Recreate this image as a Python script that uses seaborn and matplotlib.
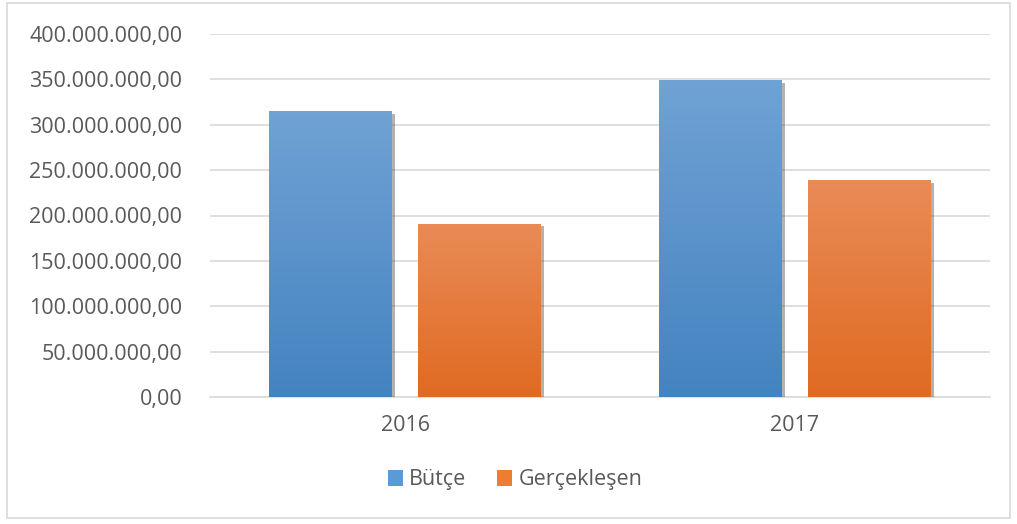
import numpy as np
import pandas as pd
import seaborn as sns
import matplotlib.pyplot as plt
import matplotlib.patheffects as pe
from matplotlib.colors import LinearSegmentedColormap
from matplotlib.patches import Rectangle
from matplotlib.ticker import FuncFormatter

# Values
years = ["2016", "2017"]
butce = [315_000_000, 349_000_000]
gerceklesen = [191_000_000, 239_000_000]
series = ["Bütçe", "Gerçekleşen"]

df = pd.DataFrame({
    "Yıl": years * 2,
    "Seri": [series[0]] * len(years) + [series[1]] * len(years),
    "Tutar": butce + gerceklesen,
})

sns.set_style("white")
plt.rcParams["font.family"] = ["Open Sans", "DejaVu Sans"]

fig = plt.figure(figsize=(10.17, 5.24), dpi=100)
ax = fig.add_axes([210 / 1017, 1 - 397 / 524, 780 / 1017, 363 / 524])

colors = {"Bütçe": "#5B9BD5", "Gerçekleşen": "#ED7D31"}
sns.barplot(data=df, x="Yıl", y="Tutar", hue="Seri", palette=colors,
            width=0.764, gap=0.18, ax=ax, zorder=3, linewidth=0, saturation=1)

# gradient fill + soft shadow like the office chart
grads = {
    "Bütçe": ("#70A2D4", "#4483C1"),
    "Gerçekleşen": ("#E98B57", "#E06A22"),
}
for cont, name in zip(ax.containers, series):
    cmap = LinearSegmentedColormap.from_list(name, [grads[name][1], grads[name][0]])
    for bar in cont:
        bar.set_path_effects([pe.SimplePatchShadow(offset=(2.5, -2), shadow_rgbFace="#555555", alpha=0.45),
                              pe.Normal()])
        x0, y0 = bar.get_x(), bar.get_y()
        w, h = bar.get_width(), bar.get_height()
        im = ax.imshow(np.linspace(0, 1, 256).reshape(-1, 1), cmap=cmap, origin="lower",
                       extent=[x0, x0 + w, y0, y0 + h], aspect="auto", zorder=4)
        im.set_clip_path(bar)

ax.set_xlim(-0.5, 1.5)
ax.set_ylim(0, 400_000_000)
ax.set_yticks(np.arange(0, 400_000_001, 50_000_000))
ax.yaxis.set_major_formatter(FuncFormatter(
    lambda v, p: f"{v:,.2f}".replace(",", "X").replace(".", ",").replace("X", ".")))
ax.grid(axis="y", color="#D9D9D9", linewidth=1.2, zorder=0)
ax.set_axisbelow(True)
ax.set_xlabel("")
ax.set_ylabel("")
for s in ["top", "right", "left"]:
    ax.spines[s].set_visible(False)
ax.spines["bottom"].set_color("#D9D9D9")
ax.spines["bottom"].set_linewidth(1.2)
ax.tick_params(axis="both", length=0, labelsize=15.5, labelcolor="#595959")
ax.tick_params(axis="y", pad=20)
ax.tick_params(axis="x", pad=13)

handles, labels = ax.get_legend_handles_labels()
ax.legend(handles, labels, loc="center", bbox_to_anchor=(515 / 1017, 1 - 480 / 524),
          bbox_transform=fig.transFigure, ncol=2, frameon=False, fontsize=15.5,
          labelcolor="#595959", handlelength=0.7, handleheight=0.7,
          handletextpad=0.3, columnspacing=1.4)

fig.patches.append(Rectangle((7 / 1017, 1 - 518 / 524), 1003 / 1017, 515 / 524,
                             transform=fig.transFigure, fill=False,
                             edgecolor="#D9D9D9", linewidth=1.2))

fig.savefig("out.png", dpi=100)
